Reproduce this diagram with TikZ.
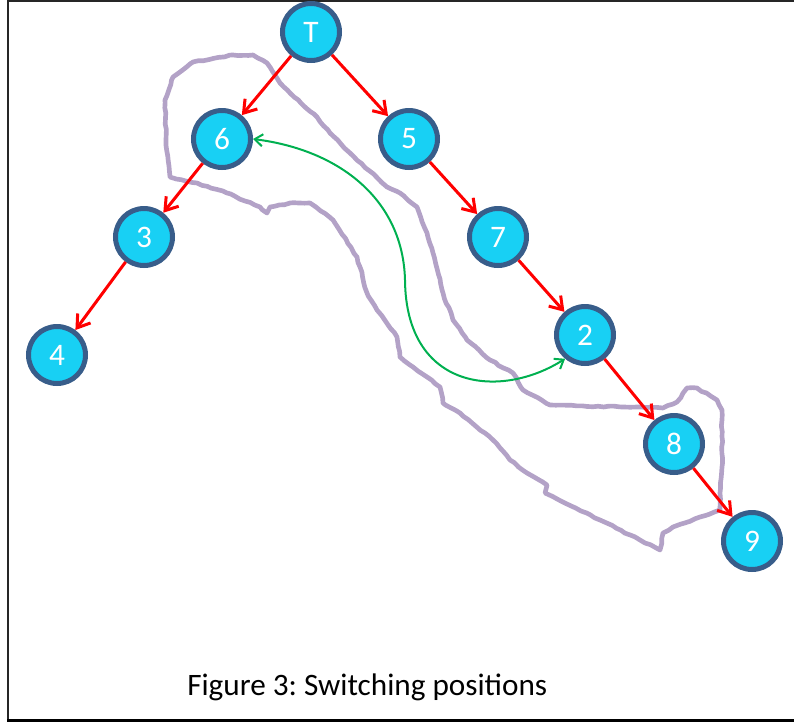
\documentclass[tikz,border=0pt]{standalone}
\usepackage{fontspec}
\setmainfont{Carlito}
\usetikzlibrary{arrows.meta,decorations.pathmorphing}
\definecolor{nodefill}{RGB}{24,208,244}
\definecolor{nodeline}{HTML}{385D8A}
\definecolor{loopcol}{HTML}{B3A2C7}
\definecolor{swapgreen}{HTML}{00B050}
\frenchspacing
\begin{document}
\begin{tikzpicture}[x=0.75pt,y=-0.75pt,
  treenode/.style={circle,draw=nodeline,fill=nodefill,line width=3.75pt,
    minimum size=42.75pt,inner sep=0pt,text=white,
    font=\fontsize{23.5}{26}\selectfont},
  treeedge/.style={draw=red,line width=2.25pt,
    -{Straight Barb[length=9pt,width=12pt]}},
  swapedge/.style={draw=swapgreen,line width=1.5pt,
    {Straight Barb[length=6pt,width=9pt]}-{Straight Barb[length=6pt,width=9pt]}},
  loopline/.style={draw=loopcol,line width=3.5pt,line join=round,
    decorate,decoration={random steps,segment length=4pt,amplitude=0.5pt}},
  framerule/.style={draw=black!85,line width=1.5pt},
  caption/.style={font=\fontsize{23.4}{28}\selectfont,anchor=base west,inner sep=0pt}]
\useasboundingbox (0,0) rectangle (794,722);
% frame
\draw[framerule] (8,720) -- (8,0.8) -- (794,0.8);
\draw[framerule,line width=2.6pt,draw=black] (7,720.5) -- (794,720.5);

% purple loop
\draw[loopline] (170,177) -- (166,140) -- (165,100) -- (173,77) -- (193,62)
  -- (233,55) -- (253,55) -- (267,63) -- (280,83) -- (290,93) -- (317,117)
  -- (330,133) -- (350,153) -- (387,187) -- (400,193) -- (417,207)
  -- (427,233) -- (433,253) -- (443,293) -- (453,320) -- (467,340)
  -- (490,360) -- (513,373) -- (523,390) -- (550,405) -- (663,408)
  -- (677,402) -- (687,388) -- (697,388) -- (717,400) -- (722,410)
  -- (722,467) -- (720,493) -- (720,510) -- (700,517) -- (673,527)
  -- (663,533) -- (660,550) -- (640,540) -- (600,520) -- (545,493)
  -- (547,485) -- (527,473) -- (510,460) -- (493,440) -- (460,413)
  -- (443,403) -- (440,387) -- (413,367) -- (400,357) -- (397,337)
  -- (377,310) -- (367,293) -- (360,267) -- (357,257) -- (333,220)
  -- (310,203) -- (290,203) -- (270,207) -- (267,213) -- (260,207)
  -- (227,193) -- (197,183) -- cycle;

% nodes
\node[treenode] (T) at (311,32) {T};
\node[treenode] (n6) at (222,139) {6};
\node[treenode] (n5) at (409,139) {5};
\node[treenode] (n3) at (144,237) {3};
\node[treenode] (n7) at (498,237) {7};
\node[treenode] (n4) at (57,355) {4};
\node[treenode] (n2) at (585,335) {2};
\node[treenode] (n8) at (674,444) {8};
\node[treenode] (n9) at (752,541) {9};

% tree edges
\draw[treeedge] (T) -- (n6);
\draw[treeedge] (T) -- (n5);
\draw[treeedge] (n6) -- (n3);
\draw[treeedge] (n3) -- (n4);
\draw[treeedge] (n5) -- (n7);
\draw[treeedge] (n7) -- (n2);
\draw[treeedge] (n2) -- (n8);
\draw[treeedge] (n8) -- (n9);

% swap arrow
\coordinate (swapmid) at (405,280);
\draw[swapedge] (n6.east) .. controls (340,150) and (403,200) .. (swapmid)
  .. controls (406,390) and (500,400) .. (n2.230);

% caption
\node[caption] (cap) at (187,695) {Figure 3: Switching positions};
\end{tikzpicture}
\end{document}
